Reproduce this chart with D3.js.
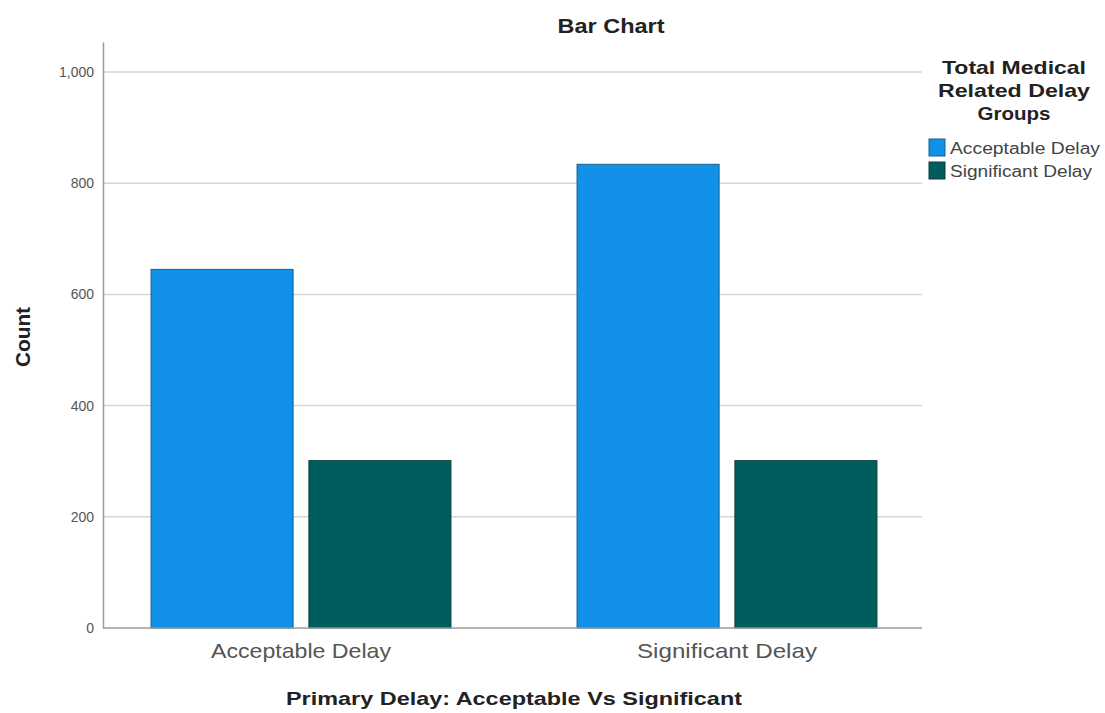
<!DOCTYPE html>
<html>
<head>
<meta charset="utf-8">
<script src="https://cdn.jsdelivr.net/npm/d3@7"></script>
<style>
  html, body { margin: 0; padding: 0; background: #fff; }
  svg { display: block; font-family: "Liberation Sans", Arial, sans-serif; }
</style>
</head>
<body>
<svg id="chart" width="1105" height="713"></svg>
<script>
// Primary delay groups on the x axis, medical delay groups as the bar series
const categories = ["Acceptable Delay", "Significant Delay"];
const seriesNames = ["Acceptable Delay", "Significant Delay"];
const acceptableCounts = [645, 834];
const significantCounts = [301, 301];
const yTicks = [0, 200, 400, 600, 800, 1000];
const seriesColors = ["#1192e8", "#005d5d"];

const seriesValues = [acceptableCounts, significantCounts];
const rows = categories.map((c, i) => ({
  category: c,
  values: seriesNames.map((s, j) => ({ series: s, idx: j, value: seriesValues[j][i] }))
}));

const svg = d3.select("#chart");
const plot = { left: 103, right: 922, top: 42, bottom: 628 };

const y = d3.scaleLinear().domain([0, 1054]).range([plot.bottom, plot.top]);
const x0 = d3.scaleBand().domain(categories).range([88, 940])
  .paddingInner(0.296).paddingOuter(0.148);
const x1 = d3.scaleBand().domain(seriesNames).range([0, x0.bandwidth()]).paddingInner(0.1);

// Gridlines
svg.append("g")
  .selectAll("line")
  .data(yTicks.filter(d => d > 0))
  .join("line")
  .attr("x1", plot.left).attr("x2", plot.right)
  .attr("y1", d => y(d)).attr("y2", d => y(d))
  .attr("stroke", "#d6d6d6").attr("stroke-width", 1.5);

// Y axis
const yAxis = svg.append("g")
  .attr("transform", `translate(${plot.left},0)`)
  .call(d3.axisLeft(y).tickValues(yTicks).tickFormat(d3.format(",")).tickSize(0).tickPadding(9));
yAxis.select(".domain").attr("stroke", "#9a9a9a").attr("stroke-width", 1.5);
yAxis.selectAll("text").attr("font-size", 14).attr("fill", "#555")
  .attr("font-family", "'Liberation Sans Narrow', 'Liberation Sans', Arial, sans-serif");

// Bars
const groups = svg.append("g")
  .selectAll("g")
  .data(rows)
  .join("g")
  .attr("transform", d => `translate(${x0(d.category)},0)`);

groups.selectAll("rect")
  .data(d => d.values)
  .join("rect")
  .attr("x", d => x1(d.series))
  .attr("width", x1.bandwidth())
  .attr("y", d => y(d.value))
  .attr("height", d => y(0) - y(d.value))
  .attr("fill", d => seriesColors[d.idx])
  .attr("stroke", d => d.idx === 0 ? "#1b5f8f" : "#0a3f3f")
  .attr("stroke-width", 1);

// X axis
const xAxis = svg.append("g")
  .attr("transform", `translate(0,${plot.bottom})`)
  .call(d3.axisBottom(x0).tickSize(0).tickPadding(15));
xAxis.select(".domain").remove();
svg.append("line")
  .attr("x1", plot.left).attr("x2", plot.right)
  .attr("y1", plot.bottom).attr("y2", plot.bottom)
  .attr("stroke", "#9a9a9a").attr("stroke-width", 1.5);
xAxis.selectAll("text").attr("font-size", 21).attr("fill", "#555")
  .attr("font-family", "'Liberation Sans', Arial, sans-serif")
  .attr("textLength", 180).attr("lengthAdjust", "spacingAndGlyphs");

// Titles
svg.append("text").attr("x", 611).attr("y", 33).attr("text-anchor", "middle")
  .attr("font-size", 20).attr("font-weight", "bold").attr("fill", "#222")
  .attr("textLength", 107).attr("lengthAdjust", "spacingAndGlyphs")
  .text("Bar Chart");

svg.append("text").attr("x", 514).attr("y", 705).attr("text-anchor", "middle")
  .attr("font-size", 19).attr("font-weight", "bold").attr("fill", "#222")
  .attr("textLength", 456).attr("lengthAdjust", "spacingAndGlyphs")
  .text("Primary Delay: Acceptable Vs Significant");

svg.append("text")
  .attr("transform", "translate(30,337) rotate(-90)")
  .attr("text-anchor", "middle")
  .attr("font-size", 20).attr("font-weight", "bold").attr("fill", "#222")
  .attr("textLength", 60).attr("lengthAdjust", "spacingAndGlyphs")
  .text("Count");

// Legend
const legendTitle = ["Total Medical", "Related Delay", "Groups"];
const legendTitleWidths = [144, 152, 73];
svg.append("g").selectAll("text")
  .data(legendTitle)
  .join("text")
  .attr("x", 1014).attr("y", (d, i) => 74 + i * 23)
  .attr("text-anchor", "middle")
  .attr("font-size", 19).attr("font-weight", "bold").attr("fill", "#222")
  .attr("textLength", (d, i) => legendTitleWidths[i]).attr("lengthAdjust", "spacingAndGlyphs")
  .text(d => d);

const legendItems = svg.append("g").selectAll("g")
  .data(seriesNames)
  .join("g")
  .attr("transform", (d, i) => `translate(929,${139 + i * 23})`);
legendItems.append("rect")
  .attr("width", 16).attr("height", 17)
  .attr("fill", (d, i) => seriesColors[i])
  .attr("stroke", (d, i) => i === 0 ? "#1b5f8f" : "#0a3f3f");
legendItems.append("text")
  .attr("x", 21).attr("y", 15)
  .attr("font-size", 16).attr("fill", "#444")
  .attr("textLength", (d, i) => i === 0 ? 150 : 142).attr("lengthAdjust", "spacingAndGlyphs")
  .text(d => d);
</script>
</body>
</html>
